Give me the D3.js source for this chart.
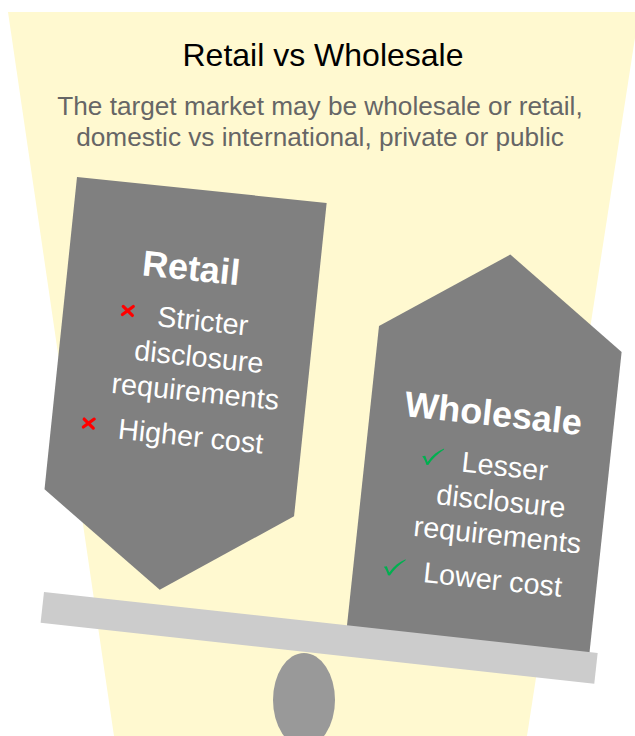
<!DOCTYPE html>
<html>
<head>
<meta charset="utf-8">
<script src="https://cdn.jsdelivr.net/npm/d3@7"></script>
<style>
    body { margin: 0; background: white; }
    text { font-family: "Liberation Sans", Arial, sans-serif; }
</style>
</head>
<body>
<script>
// texts
const title = "Retail vs Wholesale"
const subtitleLines = ["The target market may be wholesale or retail,", "domestic vs international, private or public"]
const retailHeading = "Retail"
const retailItems = [["Stricter", "disclosure", "requirements"], ["Higher cost"]]
const wholesaleHeading = "Wholesale"
const wholesaleItems = [["Lesser", "disclosure", "requirements"], ["Lower cost"]]

const width = 635
const height = 736

const svg = d3.select("body")
    .append("svg")
    .attr("width", width)
    .attr("height", height)

// yellow backdrop funnel
svg.append("path")
    .attr("d", d3.line()([[8, 12], [639, 12], [527, 736], [114, 736]]) + "Z")
    .attr("fill", "#fff9d0")

svg.append("text")
    .attr("x", 323)
    .attr("y", 66)
    .attr("text-anchor", "middle")
    .attr("font-size", 32)
    .attr("fill", "#000")
    .text(title)

svg.selectAll(".sub")
    .data(subtitleLines).enter()
    .append("text")
    .attr("class", "sub")
    .attr("x", 320)
    .attr("y", (d, i) => 115 + i * 31)
    .attr("text-anchor", "middle")
    .attr("font-size", 26.2)
    .attr("fill", "#666")
    .text(d => d)

function drawPanel(g, shape, heading, headingY, items, lineYs, marker) {
    g.append("path")
        .attr("d", d3.line()(shape) + "Z")
        .attr("fill", "#808080")

    g.append("text")
        .attr("x", 123)
        .attr("y", headingY)
        .attr("text-anchor", "middle")
        .attr("font-size", 36)
        .attr("font-weight", "bold")
        .attr("fill", "white")
        .text(heading)

    let k = 0
    items.forEach(lines => {
        let firstLeft = null, firstY = null
        lines.forEach((line, j) => {
            const t = g.append("text")
                .attr("x", 140)
                .attr("y", lineYs[k])
                .attr("text-anchor", "middle")
                .attr("font-size", 28.8)
                .attr("fill", "white")
                .text(line)
            if (j === 0) {
                firstLeft = 140 - t.node().getComputedTextLength() / 2
                firstY = lineYs[k]
            }
            k++
        })
        marker(g, firstLeft - 30, firstY - 12)
    })
}

function cross(g, x, y) {
    g.append("path")
        .attr("d", `M${x - 5},${y - 4}L${x + 5},${y + 4}M${x + 5},${y - 5}L${x - 5},${y + 4}`)
        .attr("stroke", "#ff0000")
        .attr("stroke-width", 3.2)
        .attr("stroke-linecap", "round")
        .attr("fill", "none")
}

function check(g, x, y) {
    g.append("path")
        .attr("d", `M${x - 10},${y + 1}L${x - 7},${y} C${x - 6},${y + 2} ${x - 5},${y + 4} ${x - 4},${y + 6}C${x},${y - 1} ${x + 5},${y - 6} ${x + 11},${y - 9}L${x + 11},${y - 8}C${x + 5},${y - 3} ${x},${y + 3} ${x - 3},${y + 9}L${x - 5},${y + 9}C${x - 6},${y + 6} ${x - 8},${y + 3} ${x - 10},${y + 1}Z`)
        .attr("fill", "#00b050")
}

// retail arrow, tipping down
const retail = svg.append("g")
    .attr("transform", "translate(77,177) rotate(5.94)")
drawPanel(retail, [[0, 0], [251, 0], [251, 315], [125, 402], [0, 314]],
    retailHeading, 91, retailItems, [140, 176, 211, 256], cross)

// wholesale house, pointing up
const wholesale = svg.append("g")
    .attr("transform", "translate(379,326) rotate(6.1)")
drawPanel(wholesale, [[0, 0], [123, -85], [244, 0], [244, 310], [0, 310]],
    wholesaleHeading, 87, wholesaleItems, [136, 171, 205, 250], check)

// fulcrum
svg.append("ellipse")
    .attr("cx", 304)
    .attr("cy", 700)
    .attr("rx", 31)
    .attr("ry", 47)
    .attr("fill", "#999999")

// beam
svg.append("g")
    .attr("transform", "translate(44,592) rotate(6.28)")
    .append("rect")
    .attr("width", 557)
    .attr("height", 31)
    .attr("fill", "#cccccc")
</script>
</body>
</html>
